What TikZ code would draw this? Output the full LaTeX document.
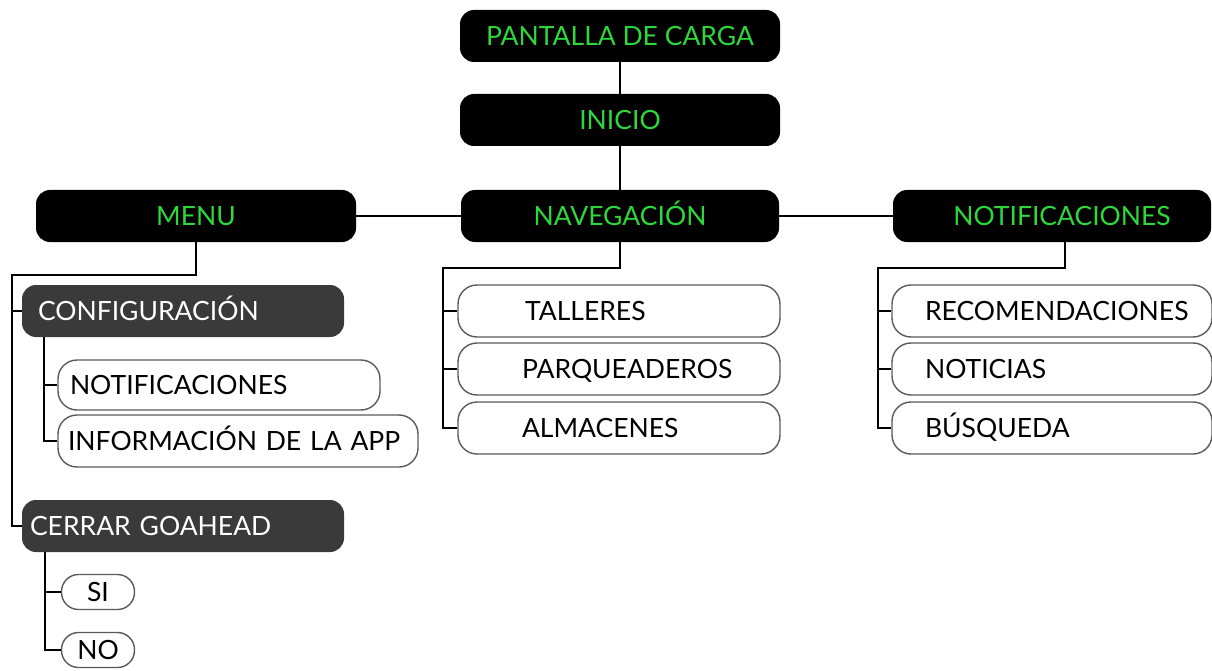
\documentclass[tikz,border=0pt]{standalone}
\usepackage{fontspec}
\setmainfont{Lato}
\definecolor{lgreen}{RGB}{45,215,60}
\definecolor{dgray}{RGB}{58,58,58}
\definecolor{bgray}{RGB}{90,90,90}
\begin{document}
\begin{tikzpicture}[x=1pt,y=-1pt,
  every node/.style={font=\fontsize{26.5}{30}\selectfont, inner sep=0pt, text height=19pt, text depth=0pt},
  topbox/.style={fill=black, rounded corners=14pt, text=lgreen, minimum height=52pt},
  graybox/.style={fill=dgray, rounded corners=14pt, text=white, minimum height=52pt, align=left},
  whitebox/.style={draw=bgray, line width=1.4pt, fill=white, rounded corners=19pt, text=black, align=left},
  pill/.style={draw=bgray, line width=1.4pt, fill=white, rounded corners=17pt, text=black, minimum width=73pt, minimum height=35pt},
  conn/.style={line width=2.4pt, black}]
\useasboundingbox (0,0) rectangle (1212,671);

% top level
\node[topbox, minimum width=320pt] (pant) at (620,36) {PANTALLA DE CARGA};
\node[topbox, minimum width=320pt] (ini) at (620,120) {INICIO};
\node[topbox, minimum width=320pt] (menu) at (196,216) {MENU};
\node[topbox, minimum width=318pt] (nav) at (620,216) {NAVEGACIÓN};
\node[topbox, minimum width=318pt] (notif) at (1052,216) {\hspace*{20pt}NOTIFICACIONES};

% menu branch
\node[graybox, text width=290pt, inner xsep=16pt] (conf) at (183,311) {CONFIGURACIÓN};
\node[whitebox, text width=298pt, inner xsep=12pt, minimum height=50pt] (notc) at (219,385) {NOTIFICACIONES};
\node[whitebox, text width=340pt, inner xsep=10pt, minimum height=52pt] (info) at (238,441) {INFORMACIÓN DE LA APP};
\node[graybox, text width=306pt, inner xsep=8pt] (cerr) at (183,526) {CERRAR GOAHEAD};
\node[pill] (si) at (98,592) {SI};
\node[pill] (no) at (98,650) {NO};

% navegacion branch
\node[whitebox, text width=258pt, inner xsep=32pt, minimum height=52pt] (tall) at (619,311) {\hspace*{35pt}TALLERES};
\node[whitebox, text width=258pt, inner xsep=32pt, minimum height=52pt] (parq) at (619,369) {\hspace*{32pt}PARQUEADEROS};
\node[whitebox, text width=258pt, inner xsep=32pt, minimum height=52pt] (alm) at (619,428) {\hspace*{32pt}ALMACENES};

% notificaciones branch
\node[whitebox, text width=290pt, inner xsep=15pt, minimum height=52pt] (reco) at (1052,311) {\hspace*{18pt}RECOMENDACIONES};
\node[whitebox, text width=290pt, inner xsep=15pt, minimum height=52pt] (noti) at (1052,369) {\hspace*{18pt}NOTICIAS};
\node[whitebox, text width=290pt, inner xsep=15pt, minimum height=52pt] (busq) at (1052,428) {\hspace*{18pt}BÚSQUEDA};

% connectors
\draw[conn] (pant.south) -- (ini.north);
\draw[conn] (ini.south) -- (nav.north);
\draw[conn] (menu.east) -- (nav.west);
\draw[conn] (nav.east) -- (notif.west);

\coordinate (mj) at (12,275);
\draw[conn] (menu.south) |- (mj) |- (cerr.west);
\draw[conn] (mj |- conf.west) -- (conf.west);

\coordinate (cx) at (44,0);
\draw[conn] (cx |- conf.south) |- (info.west);
\draw[conn] (cx |- notc.west) -- (notc.west);

\coordinate (sx) at (45,0);
\draw[conn] (sx |- cerr.south) |- (no.west);
\draw[conn] (sx |- si.west) -- (si.west);

\coordinate (nj) at (443,268);
\draw[conn] (nav.south) |- (nj) |- (alm.west);
\draw[conn] (nj |- tall.west) -- (tall.west);
\draw[conn] (nj |- parq.west) -- (parq.west);

\coordinate (fj) at (878,268);
\draw[conn] (notif.south) ++(13,0) coordinate (fs) -- (fs |- fj) -- (fj) |- (busq.west);
\draw[conn] (fj |- reco.west) -- (reco.west);
\draw[conn] (fj |- noti.west) -- (noti.west);
\end{tikzpicture}
\end{document}
